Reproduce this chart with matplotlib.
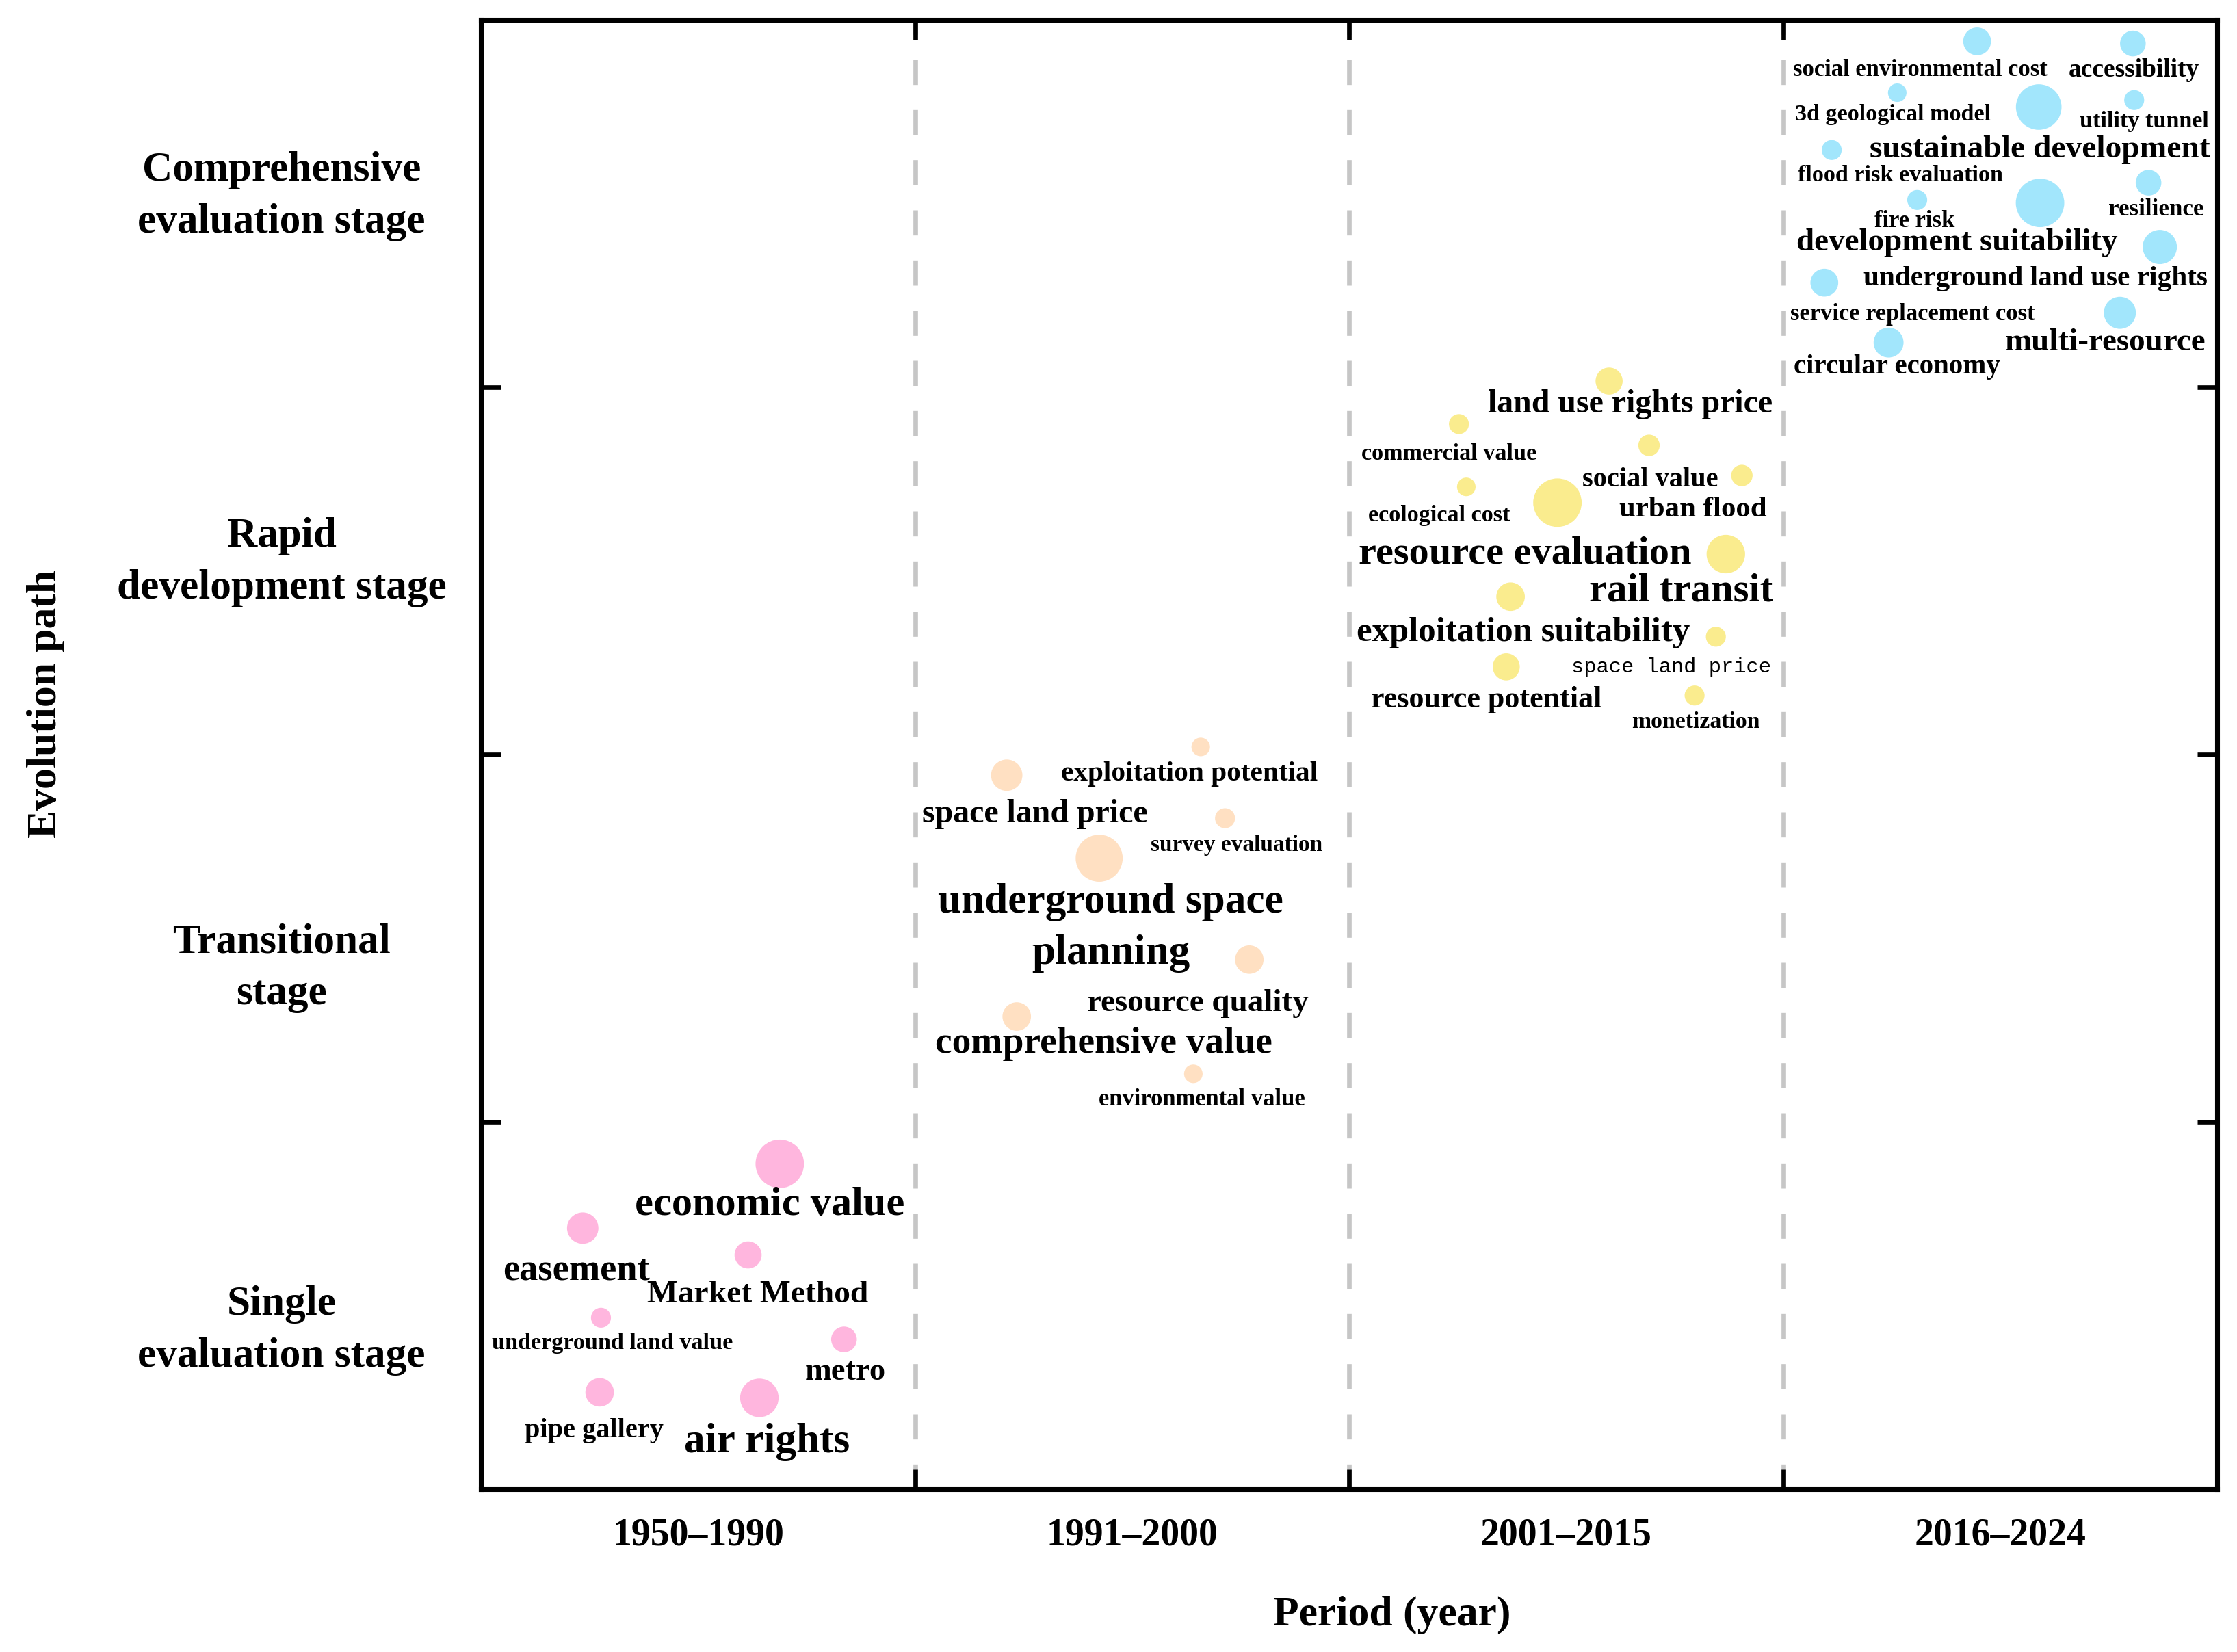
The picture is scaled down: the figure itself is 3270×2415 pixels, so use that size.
import matplotlib
matplotlib.use("Agg")
import matplotlib.pyplot as plt
from matplotlib.ticker import FixedLocator

plt.rcParams["font.family"] = ["Liberation Serif", "DejaVu Serif"]
plt.rcParams["font.weight"] = "bold"

# ---- data -------------------------------------------------------------
periods = ["1950\u20131990", "1991\u20132000", "2001\u20132015", "2016\u20132024"]
stages = ["Single\nevaluation stage", "Transitional\nstage",
          "Rapid\ndevelopment stage", "Comprehensive\nevaluation stage"]

# 1950-1990 (single evaluation stage)
pink_terms = ["economic value", "easement", "Market Method", "underground land value",
              "metro", "pipe gallery", "air rights"]
pink_x = [0.688, 0.234, 0.615, 0.276, 0.836, 0.273, 0.641]
pink_y = [0.886, 0.711, 0.638, 0.467, 0.408, 0.264, 0.249]
pink_size = [34, 22, 19, 14, 18, 20, 27]

# 1991-2000 (transitional stage)
peach_terms = ["exploitation potential", "space land price", "survey evaluation",
               "underground space\nplanning", "resource quality", "comprehensive value",
               "environmental value"]
peach_x = [1.658, 1.211, 1.714, 1.424, 1.770, 1.234, 1.641]
peach_y = [2.021, 1.944, 1.827, 1.718, 1.442, 1.287, 1.131]
peach_size = [13, 22, 14, 33, 20, 20, 13]

# 2001-2015 (rapid development stage)
yellow_terms = ["land use rights price", "commercial value", "social value", "urban flood",
                "ecological cost", "resource evaluation", "rail transit",
                "exploitation suitability", "space  land price", "resource potential",
                "monetization"]
yellow_x = [2.599, 2.253, 2.691, 2.905, 2.270, 2.480, 2.868, 2.372, 2.845, 2.362, 2.796]
yellow_y = [3.017, 2.900, 2.842, 2.760, 2.729, 2.686, 2.546, 2.430, 2.321, 2.239, 2.161]
yellow_size = [19, 14, 15, 15, 13, 34, 27, 20, 14, 19, 14]

# 2016-2024 (comprehensive evaluation stage)
blue_terms = ["social environmental cost", "accessibility", "3d geological model",
              "sustainable development", "utility tunnel", "flood risk evaluation",
              "fire risk", "development suitability", "resilience",
              "underground land use rights", "service replacement cost",
              "multi-resource", "circular economy"]
blue_x = [3.447, 3.806, 3.263, 3.589, 3.809, 3.112, 3.309, 3.592, 3.842, 3.868, 3.095,
          3.776, 3.243]
blue_y = [3.942, 3.936, 3.802, 3.763, 3.782, 3.646, 3.510, 3.502, 3.557, 3.382, 3.285,
          3.203, 3.122]
blue_size = [19.5, 18, 13, 32, 14, 14, 14, 34, 18, 24, 19.5, 22.5, 21]

# ---- label layout -----------------------------------------------------
pink_lx = [0.665, 0.220, 0.638, 0.303, 0.839, 0.260, 0.658]
pink_ly = [0.774, 0.595, 0.529, 0.397, 0.319, 0.159, 0.128]
pink_fs = [14.5, 13.1, 11.4, 8.2, 11.2, 9.7, 14.7]

peach_lx = [1.632, 1.276, 1.740, 1.451, 1.651, 1.434, 1.661]
peach_ly = [1.948, 1.839, 1.753, 1.528, 1.322, 1.213, 1.061]
peach_fs = [9.9, 11.5, 8.0, 14.7, 11.3, 13.3, 8.3]

yellow_lx = [2.648, 2.230, 2.694, 2.793, 2.207, 2.405, 2.766, 2.401, 2.743, 2.316, 2.799]
yellow_ly = [2.954, 2.818, 2.748, 2.667, 2.651, 2.546, 2.445, 2.332, 2.239, 2.150, 2.088]
yellow_fs = [11.5, 8.2, 9.7, 10.3, 8.2, 14.0, 14.1, 12.2, 7.3, 10.6, 8.1]

blue_lx = [3.316, 3.809, 3.253, 3.592, 3.832, 3.270, 3.303, 3.401, 3.859, 3.582, 3.299,
           3.743, 3.263]
blue_ly = [3.864, 3.864, 3.743, 3.646, 3.724, 3.576, 3.452, 3.394, 3.483, 3.296, 3.199,
           3.122, 3.055]
blue_fs = [8.3, 9.0, 8.2, 11.4, 8.2, 8.2, 8.3, 11.3, 8.4, 9.9, 8.3, 11.3, 9.8]

stage_label_y = [0.463, 1.450, 2.555, 3.551]

groups = [
    (pink_terms, pink_x, pink_y, pink_size, pink_lx, pink_ly, pink_fs, "#FFB6DE"),
    (peach_terms, peach_x, peach_y, peach_size, peach_lx, peach_ly, peach_fs, "#FFE0C2"),
    (yellow_terms, yellow_x, yellow_y, yellow_size, yellow_lx, yellow_ly, yellow_fs, "#FAEC8E"),
    (blue_terms, blue_x, blue_y, blue_size, blue_lx, blue_ly, blue_fs, "#A2E6FC"),
]

# ---- figure -----------------------------------------------------------
fig = plt.figure(figsize=(10.9, 8.05), dpi=300)
ax = fig.add_axes([0.2151, 0.0985, 0.7760, 0.8894])
ax.set_xlim(0, 4)
ax.set_ylim(0, 4)

for terms, xs, ys, sizes, lxs, lys, fss, color in groups:
    ax.scatter(xs, ys, s=[(0.5 * d) ** 2 for d in sizes], color=color,
               edgecolors="none", zorder=3)
    for term, lx, ly, fs in zip(terms, lxs, lys, fss):
        if term == "space  land price":
            ax.text(lx, ly, term.replace("  ", " "), fontsize=fs, ha="center", va="center",
                    family=["Liberation Mono", "DejaVu Sans Mono"], weight="normal",
                    zorder=4)
        else:
            ax.text(lx, ly, term, fontsize=fs, ha="center", va="center",
                    linespacing=1.45, zorder=4)

# axes cosmetics
ax.xaxis.set_major_locator(FixedLocator([1, 2, 3]))
ax.yaxis.set_major_locator(FixedLocator([1, 2, 3]))
ax.xaxis.set_minor_locator(FixedLocator([0.5, 1.5, 2.5, 3.5]))
ax.yaxis.set_minor_locator(FixedLocator(stage_label_y))
ax.set_xticklabels(periods, minor=True)
ax.set_yticklabels(stages, minor=True)

ax.tick_params(which="major", direction="in", length=7, width=1.6,
               top=True, right=True, labelbottom=False, labelleft=False)
ax.tick_params(which="minor", length=0)
ax.tick_params(axis="x", which="minor", pad=10, labelsize=13.4)
ax.tick_params(axis="y", which="minor", pad=70, labelsize=14.7)
for lab in ax.get_yticklabels(minor=True):
    lab.set_ha("center")
    lab.set_multialignment("center")
    lab.set_linespacing(1.47)

ax.xaxis.grid(True, which="major", color="#C6C6C6", lw=1.6, ls=(0, (5.5, 5.5)))
ax.set_axisbelow(True)
for sp in ax.spines.values():
    sp.set_linewidth(1.7)

ax.set_xlabel("Period (year)", fontsize=14.8, fontweight="bold")
ax.xaxis.set_label_coords(0.5247, -0.0855)
ax.xaxis.label.set_va("center")
ax.set_ylabel("Evolution path", fontsize=14.8, fontweight="bold")
ax.yaxis.set_label_coords(-0.2508, 0.5345)
ax.yaxis.label.set_va("center")

fig.savefig("out.png", dpi=300)
